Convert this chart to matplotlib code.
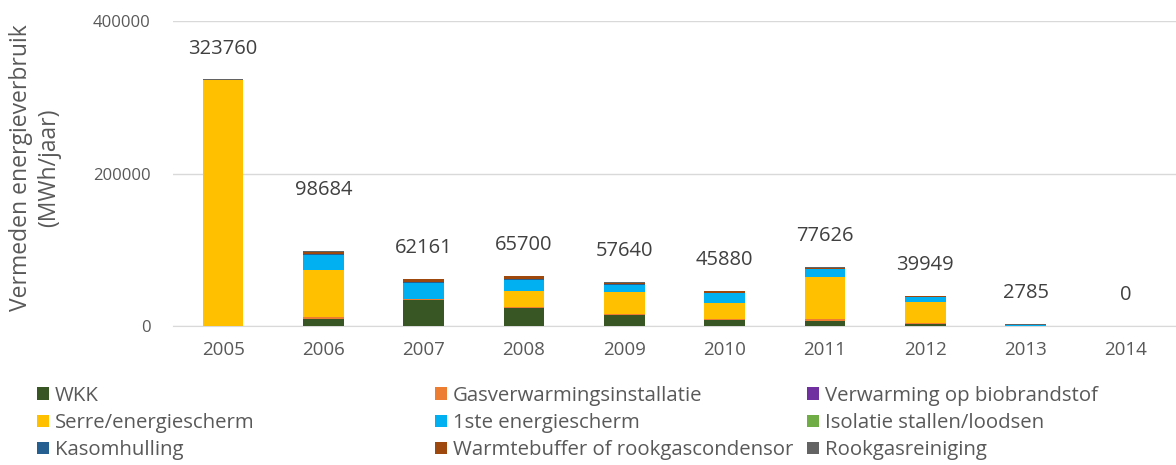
import matplotlib.pyplot as plt
import numpy as np

plt.rcParams['font.family'] = ['Open Sans', 'DejaVu Sans']

years = ['2005', '2006', '2007', '2008', '2009', '2010', '2011', '2012', '2013', '2014']

# vermeden energieverbruik per maatregel (MWh/jaar)
wkk          = [0,      9700,  33500, 23000, 15000, 8200,  6200,  3200,  500,  0]
gasverw      = [0,      1500,  2000,  1300,  1300,  1200,  2500,  1300,  0,    0]
biobrandstof = [0,      0,     0,     0,     0,     0,     0,     0,     0,    0]
serre        = [323000, 62400, 0,     21500, 28400, 20500, 55700, 27600, 0,    0]
scherm1      = [0,      19700, 21500, 15000, 9700,  13000, 10500, 5700,  1000, 0]
isolatie     = [0,      0,     0,     0,     0,     0,     0,     0,     0,    0]
kasomhulling = [0,      1300,  1300,  900,   600,   400,   0,     0,     0,    0]
warmtebuffer = [0,      2600,  3500,  3500,  2000,  2100,  1200,  1500,  0,    0]
rookgas      = [760,    1484,  361,   500,   640,   480,   1526,  649,   1285, 0]

totals = [323760, 98684, 62161, 65700, 57640, 45880, 77626, 39949, 2785, 0]

series = [
    ('WKK', wkk, '#375623'),
    ('Gasverwarmingsinstallatie', gasverw, '#ED7D31'),
    ('Verwarming op biobrandstof', biobrandstof, '#7030A0'),
    ('Serre/energiescherm', serre, '#FFC000'),
    ('1ste energiescherm', scherm1, '#00B0F0'),
    ('Isolatie stallen/loodsen', isolatie, '#70AD47'),
    ('Kasomhulling', kasomhulling, '#255E91'),
    ('Warmtebuffer of rookgascondensor', warmtebuffer, '#9E480E'),
    ('Rookgasreiniging', rookgas, '#636363'),
]

fig = plt.figure(figsize=(11.76, 4.65), dpi=100)
ax = fig.add_axes([173 / 1176, 1 - 326 / 465, 1 - 173 / 1176, (326 - 21) / 465])

ind = np.arange(len(years))
width = 0.405
bottom = np.zeros(len(years))
handles = []
for name, vals, col in series:
    vals = np.array(vals, dtype=float)
    b = ax.bar(ind, vals, width, bottom=bottom, color=col, label=name,
               edgecolor='none', zorder=3)
    handles.append(b)
    bottom += vals

# totaal boven elke kolom
extra = [0, 22, 0, 0, 0, 0, 0, 0, 0, 0]
for i, t in enumerate(totals):
    ax.annotate(str(t), (ind[i], bottom[i]), xytext=(0, 22 + extra[i]),
                textcoords='offset points', ha='center', va='center',
                fontsize=14.5, color='#404040')

ax.set_xlim(-0.5, len(years) - 0.5)
ax.set_ylim(0, 400000)
ax.set_yticks([0, 200000, 400000])
ax.set_xticks(ind)
ax.set_xticklabels(years)
ax.tick_params(axis='both', length=0, labelsize=12, colors='#595959')
ax.tick_params(axis='x', labelsize=13.5, pad=11)
ax.tick_params(axis='y', pad=16)
ax.grid(axis='y', color='#D9D9D9', linewidth=1, zorder=0)
for s in ['top', 'right', 'left']:
    ax.spines[s].set_visible(False)
ax.spines['bottom'].set_color('#D9D9D9')

fig.text(35 / 1176, 1 - 168 / 465, 'Vermeden energieverbruik\n(MWh/jaar)',
         rotation=90, ha='center', va='center', fontsize=16.5,
         color='#595959', linespacing=1.2)

# legenda in drie kolommen, rij voor rij gevuld
col_x = [37 / 1176, 435 / 1176, 807 / 1176]
for c in range(3):
    hs = [handles[r * 3 + c] for r in range(3)]
    labs = [series[r * 3 + c][0] for r in range(3)]
    fig.legend(hs, labs, loc='upper left', bbox_to_anchor=(col_x[c], 1 - 386 / 465),
               frameon=False, fontsize=14.7, handlelength=0.58, handleheight=0.58,
               handletextpad=0.3, labelspacing=0.35, borderpad=0, borderaxespad=0,
               labelcolor='#595959')

fig.savefig('out.png', dpi=100)
